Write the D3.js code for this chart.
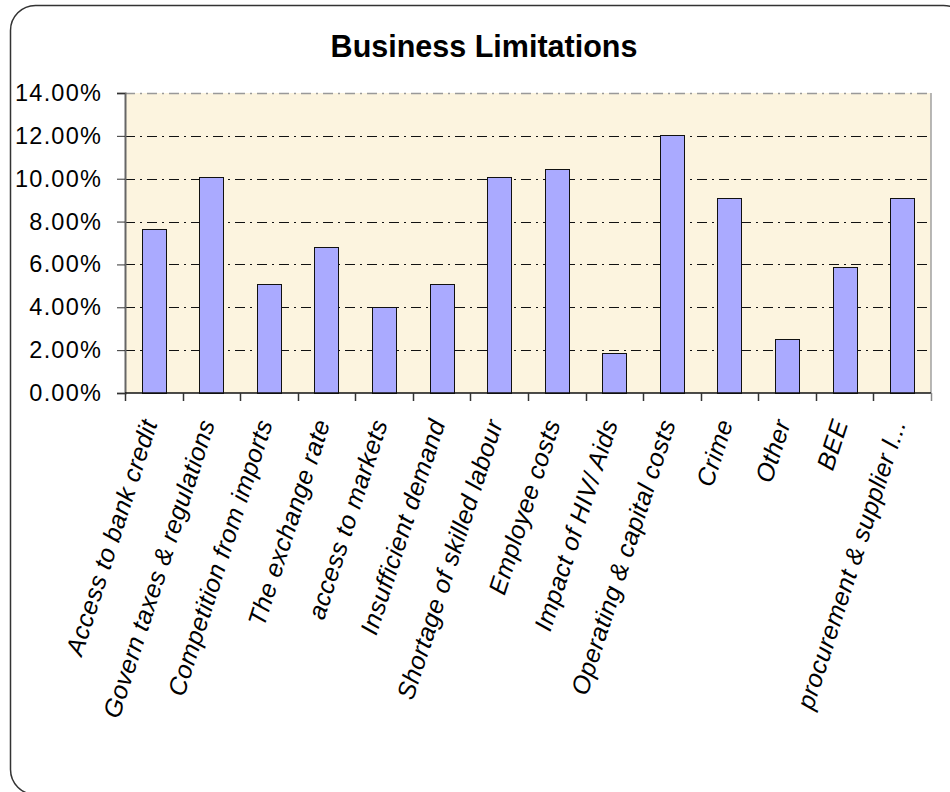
<!DOCTYPE html>
<html>
<head>
<meta charset="utf-8">
<script src="https://cdn.jsdelivr.net/npm/d3@7"></script>
<style>
  body { margin: 0; background: #fff; }
  svg { display: block; font-family: "Liberation Sans", Arial, sans-serif; }
</style>
</head>
<body>
<svg id="chart" width="950" height="792"></svg>
<script>
// chart data
var categories = [
  "Access to bank credit",
  "Govern taxes & regulations",
  "Competition from imports",
  "The exchange rate",
  "access to markets",
  "Insufficient demand",
  "Shortage of skilled labour",
  "Employee costs",
  "Impact of HIV/ Aids",
  "Operating & capital costs",
  "Crime",
  "Other",
  "BEE",
  "procurement & supplier l..."
];
var shares = [0.0764, 0.1007, 0.0510, 0.0680, 0.0401, 0.0510, 0.1007,
              0.1044, 0.0185, 0.1204, 0.0911, 0.0250, 0.0588, 0.0911];
var yTicks = [0, 0.02, 0.04, 0.06, 0.08, 0.10, 0.12, 0.14];

var svg = d3.select("#chart");

var plot = {left: 125, right: 931, top: 93, bottom: 393};

// outer frame (runs off the picture on the right / bottom)
svg.append("rect")
  .attr("x", 10.5).attr("y", 5.5)
  .attr("width", 958).attr("height", 789)
  .attr("rx", 25).attr("ry", 25)
  .attr("fill", "#fff")
  .attr("stroke", "#333")
  .attr("stroke-width", 1.5);

// title
svg.append("text")
  .attr("x", 484).attr("y", 57)
  .attr("text-anchor", "middle")
  .attr("font-size", 30.5)
  .attr("font-weight", "bold")
  .text("Business Limitations");

var x = d3.scaleBand()
  .domain(categories)
  .range([plot.left, plot.right])
  .paddingInner(0.58)
  .paddingOuter(0.29);

var y = d3.scaleLinear()
  .domain([0, 0.14])
  .range([plot.bottom, plot.top]);

// plot background
svg.append("rect")
  .attr("x", plot.left).attr("y", plot.top)
  .attr("width", plot.right - plot.left)
  .attr("height", plot.bottom - plot.top)
  .attr("fill", "#fcf4df");

// right border of plot
svg.append("line")
  .attr("x1", plot.right).attr("x2", plot.right)
  .attr("y1", plot.top).attr("y2", plot.bottom)
  .attr("stroke", "#a0a0a0").attr("stroke-width", 1.5);

// gridlines
svg.append("g")
  .selectAll("line")
  .data(yTicks.filter(function(d){ return d > 0; }))
  .enter().append("line")
  .attr("x1", plot.left).attr("x2", plot.right)
  .attr("y1", function(d){ return Math.round(y(d)) + 0.5; })
  .attr("y2", function(d){ return Math.round(y(d)) + 0.5; })
  .attr("stroke", function(d){ return d >= 0.14 ? "#999" : "#111"; })
  .attr("stroke-width", function(d){ return d >= 0.14 ? 1.5 : 1; })
  .attr("stroke-dasharray", "10,5,2,5");

// bars
svg.append("g")
  .selectAll("rect")
  .data(shares)
  .enter().append("rect")
  .attr("x", function(d, i){ return Math.round(x(categories[i])) + 0.5; })
  .attr("y", function(d){ return Math.round(y(d)) + 0.5; })
  .attr("width", Math.round(x.bandwidth()))
  .attr("height", function(d){ return Math.round(y(0)) - Math.round(y(d)); })
  .attr("fill", "#aaaaff")
  .attr("stroke", "#111")
  .attr("stroke-width", 1);

// y axis
var yAxis = d3.axisLeft(y)
  .tickValues(yTicks)
  .tickFormat(d3.format(".2%"))
  .tickSize(8)
  .tickPadding(15);

var gy = svg.append("g")
  .attr("transform", "translate(" + plot.left + ",0)")
  .call(yAxis);
gy.select(".domain").attr("stroke", "#666").attr("stroke-width", 2);
gy.selectAll(".tick line").attr("stroke", "#333");
gy.selectAll(".tick text")
  .attr("font-size", 23.5)
  .attr("letter-spacing", 1.2)
  .attr("font-family", "Liberation Sans, Arial, sans-serif")
  .attr("fill", "#000");

// x axis line and category boundary ticks
var bounds = d3.range(categories.length + 1);
var xb = d3.scaleLinear().domain([0, categories.length]).range([plot.left, plot.right]);

svg.append("line")
  .attr("x1", plot.left).attr("x2", plot.right)
  .attr("y1", plot.bottom).attr("y2", plot.bottom)
  .attr("stroke", "#111").attr("stroke-width", 1.5);

svg.append("g")
  .selectAll("line")
  .data(bounds)
  .enter().append("line")
  .attr("x1", function(d){ return Math.round(xb(d)) + 0.5; })
  .attr("x2", function(d){ return Math.round(xb(d)) + 0.5; })
  .attr("y1", plot.bottom)
  .attr("y2", plot.bottom + 8)
  .attr("stroke", function(d){ return d == categories.length ? "#888" : "#333"; })
  .attr("stroke-width", 1.5);

// category labels
var xAxis = d3.axisBottom(x).tickSize(0).tickPadding(0);
var gx = svg.append("g")
  .attr("transform", "translate(0," + plot.bottom + ")")
  .call(xAxis);
gx.select(".domain").remove();
gx.selectAll(".tick text")
  .attr("font-size", 25)
  .attr("letter-spacing", 0.4)
  .attr("font-style", "italic")
  .attr("font-family", "Liberation Sans, Arial, sans-serif")
  .attr("fill", "#000")
  .attr("text-anchor", "end")
  .attr("dy", null)
  .attr("y", 0)
  .attr("transform", "translate(4,30) rotate(-72)");
</script>
</body>
</html>
